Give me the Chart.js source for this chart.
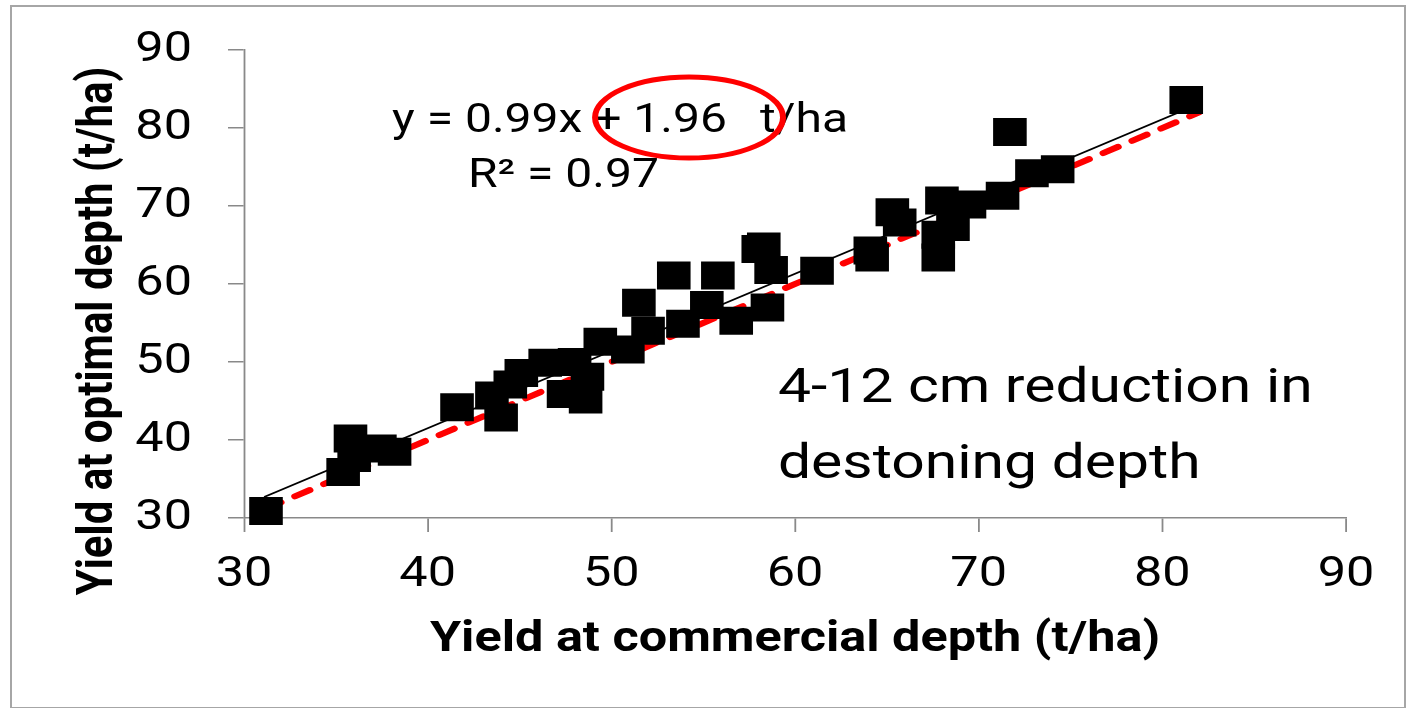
<!DOCTYPE html>
<html lang="en">
<head>
  <meta charset="UTF-8">
  <title>Yield at optimal vs commercial depth</title>
  <script src="https://cdn.jsdelivr.net/npm/chart.js@4.4.1/dist/chart.umd.min.js"></script>
  <style>
    body { margin: 0; background: #fff; }
    #wrap { position: relative; width: 1407px; height: 708px; }
    #wrap canvas { position: absolute; left: 0; top: 0; }
    #frame { position: absolute; left: 10px; top: 5px; width: 1392px; height: 700px; border: 2px solid #a6a6a6; pointer-events: none; }
  </style>
</head>
<body>
<div id="wrap">
  <canvas id="yieldChart" width="1407" height="708"></canvas>
  <div id="frame"></div>
</div>

<script>
  // yield (t/ha) at commercial destoning depth vs at optimal depth, one point per field
  const commercialYield = [31.2, 35.4, 35.8, 36.0, 37.4, 38.2, 41.6, 43.5, 44.0, 44.5, 45.1,
    46.4, 47.4, 48.6, 48.0, 48.7, 49.4, 50.9, 51.5, 52.0, 53.4, 53.9, 55.2, 55.8, 56.8,
    58.0, 58.3, 58.7, 58.5, 61.2, 64.1, 64.2, 65.3, 65.7, 68.0, 68.6, 67.8, 67.8, 69.5,
    71.3, 71.7, 72.9, 74.3, 81.3];
  const optimalYield = [30.9, 35.9, 40.2, 37.7, 38.9, 38.5, 44.2, 45.7, 42.9, 47.1, 48.6,
    49.9, 45.9, 45.2, 50.0, 48.1, 52.6, 51.6, 57.6, 54.0, 61.1, 54.9, 57.3, 61.1, 55.3,
    64.5, 64.8, 61.8, 57.0, 61.7, 64.3, 63.4, 69.2, 67.9, 70.7, 67.3, 66.3, 63.4, 70.2,
    71.3, 79.5, 74.2, 74.7, 83.6];

  // linear fit (y = 0.99x + 1.96) and the 1:1 line, end points
  const fitX = [31.1, 81.3];
  const fitY = [32.7, 82.4];
  const oneToOneX = [31.2, 82.0];
  const oneToOneY = [31.2, 82.0];

  const tickValues = [30, 40, 50, 60, 70, 80, 90];

  // original figure is stretched sideways, so draw everything with a horizontal scale
  const SX = 1.2;

  const toPoints = (xs, ys) => xs.map((x, i) => ({ x: x, y: ys[i] }));

  Chart.defaults.font.family = 'Roboto';
  Chart.defaults.color = '#000';

  const stretch = {
    id: 'stretch',
    beforeDraw(chart) {
      chart.ctx.save();
      chart.ctx.scale(SX, 1);
    },
    afterDraw(chart) {
      const ctx = chart.ctx;
      ctx.fillStyle = '#000';
      ctx.textAlign = 'left';
      ctx.textBaseline = 'alphabetic';

      ctx.font = '40px Roboto';
      ctx.fillText('y = 0.99x + 1.96', 326.7, 131.7);
      ctx.fillText('t/ha', 633.3, 131.7);
      ctx.fillText('R\u00b2 = 0.97', 390, 187);

      ctx.beginPath();
      ctx.ellipse(574.2, 117.5, 78.3, 40.5, 0, 0, Math.PI * 2);
      ctx.strokeStyle = '#ff0000';
      ctx.lineWidth = 5;
      ctx.stroke();

      ctx.font = '49px Roboto';
      ctx.fillText('4-12 cm reduction in', 648.3, 402);
      ctx.fillText('destoning depth', 648.3, 478);

      ctx.save();
      ctx.translate(93.3, 331);
      ctx.rotate(-Math.PI / 2);
      ctx.textAlign = 'center';
      ctx.font = 'bold 42px Roboto';
      ctx.fillText('Yield at optimal depth (t/ha)', 0, 0);
      ctx.restore();

      ctx.restore();
    }
  };

  const axisGrey = '#898989';

  new Chart(document.getElementById('yieldChart'), {
    type: 'scatter',
    data: {
      datasets: [{
        label: 'fields',
        data: toPoints(commercialYield, optimalYield),
        pointStyle: 'rect',
        pointRadius: 19.8,
        backgroundColor: '#000',
        borderWidth: 0,
        clip: false
      }, {
        label: 'fit',
        data: toPoints(fitX, fitY),
        showLine: true,
        pointRadius: 0,
        borderColor: '#000',
        borderWidth: 1.8,
        clip: false
      }, {
        label: '1:1',
        data: toPoints(oneToOneX, oneToOneY),
        showLine: true,
        pointRadius: 0,
        borderColor: '#ff0000',
        borderWidth: 6,
        borderDash: [14, 13],
        borderCapStyle: 'round',
        clip: false
      }]
    },
    options: {
      responsive: false,
      animation: false,
      devicePixelRatio: 1,
      events: [],
      layout: { padding: { left: 0, top: 50, right: 285.3, bottom: 0 } },
      plugins: {
        legend: { display: false },
        tooltip: { enabled: false }
      },
      scales: {
        x: {
          min: 30,
          max: 90,
          afterBuildTicks: s => { s.ticks = tickValues.map(v => ({ value: v })); },
          afterFit: s => { s.height = 190; },
          border: { display: true, color: axisGrey, width: 1.5 },
          grid: { drawOnChartArea: false, drawTicks: true, tickLength: 14, color: axisGrey, lineWidth: 1.5 },
          ticks: { font: { size: 42 }, color: '#000', padding: 18, maxRotation: 0 },
          title: {
            display: true,
            text: 'Yield at commercial depth (t/ha)',
            font: { size: 42, weight: 'bold' },
            color: '#000',
            padding: { top: 0, bottom: 42 }
          }
        },
        y: {
          min: 30,
          max: 90,
          afterBuildTicks: s => { s.ticks = tickValues.map(v => ({ value: v })); },
          afterFit: s => {
            s.width = 203.3;
            // label padding would otherwise push the top of the axis down
            s.paddingTop = 20;
            s.paddingBottom = 20;
          },
          border: { display: true, color: axisGrey, width: 1.5 },
          grid: { drawOnChartArea: false, drawTicks: true, tickLength: 13.3, color: axisGrey, lineWidth: 1.5 },
          ticks: { font: { size: 42 }, color: '#000', padding: 30 }
        }
      }
    },
    plugins: [stretch]
  });
</script>
</body>
</html>
